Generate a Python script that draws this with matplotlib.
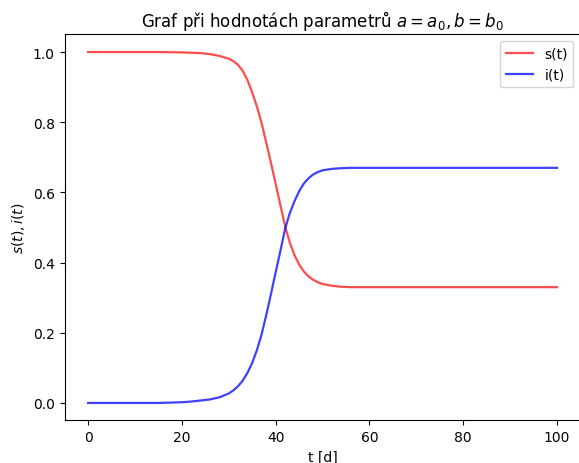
import matplotlib
matplotlib.use('Agg')
import matplotlib.pyplot as plt

# time points [days] and values
t = [0, 5, 10, 15, 20, 22, 24, 26, 28, 30, 31, 32, 33, 34, 35, 36, 37, 38, 39, 40,
     41, 42, 43, 44, 45, 46, 47, 48, 49, 50, 52, 54, 56, 60, 70, 80, 90, 100]
s = [1.0, 1.0, 1.0, 1.0, 0.999, 0.998, 0.997, 0.994, 0.989, 0.981, 0.974, 0.963, 0.946, 0.920,
     0.885, 0.845, 0.798, 0.742, 0.685, 0.625, 0.565, 0.505, 0.458, 0.422, 0.395, 0.375,
     0.361, 0.351, 0.344, 0.339, 0.334, 0.331, 0.330, 0.330, 0.330, 0.330, 0.330, 0.330]
i = [0.0, 0.0, 0.0, 0.0, 0.002, 0.004, 0.007, 0.010, 0.016, 0.027, 0.036, 0.048, 0.064, 0.086,
     0.114, 0.150, 0.195, 0.250, 0.310, 0.372, 0.432, 0.495, 0.540, 0.574, 0.603, 0.625,
     0.640, 0.651, 0.658, 0.663, 0.667, 0.669, 0.670, 0.670, 0.670, 0.670, 0.670, 0.670]

fig = plt.figure(figsize=(5.79, 4.64), dpi=100)
ax = fig.add_axes([0.1116, 0.0916, 0.8908, 0.8319])

ax.plot(t, s, color='r', alpha=0.7, linewidth=1.6, label='s(t)')
ax.plot(t, i, color='b', alpha=0.75, linewidth=1.6, label='i(t)')

ax.set_title('Graf při hodnotách parametrů $a = a_0, b = b_0$')
ax.set_xlabel('t [d]')
ax.set_ylabel('$s(t), i(t)$')
ax.legend(loc='upper right')

fig.savefig('out.png', dpi=100)
